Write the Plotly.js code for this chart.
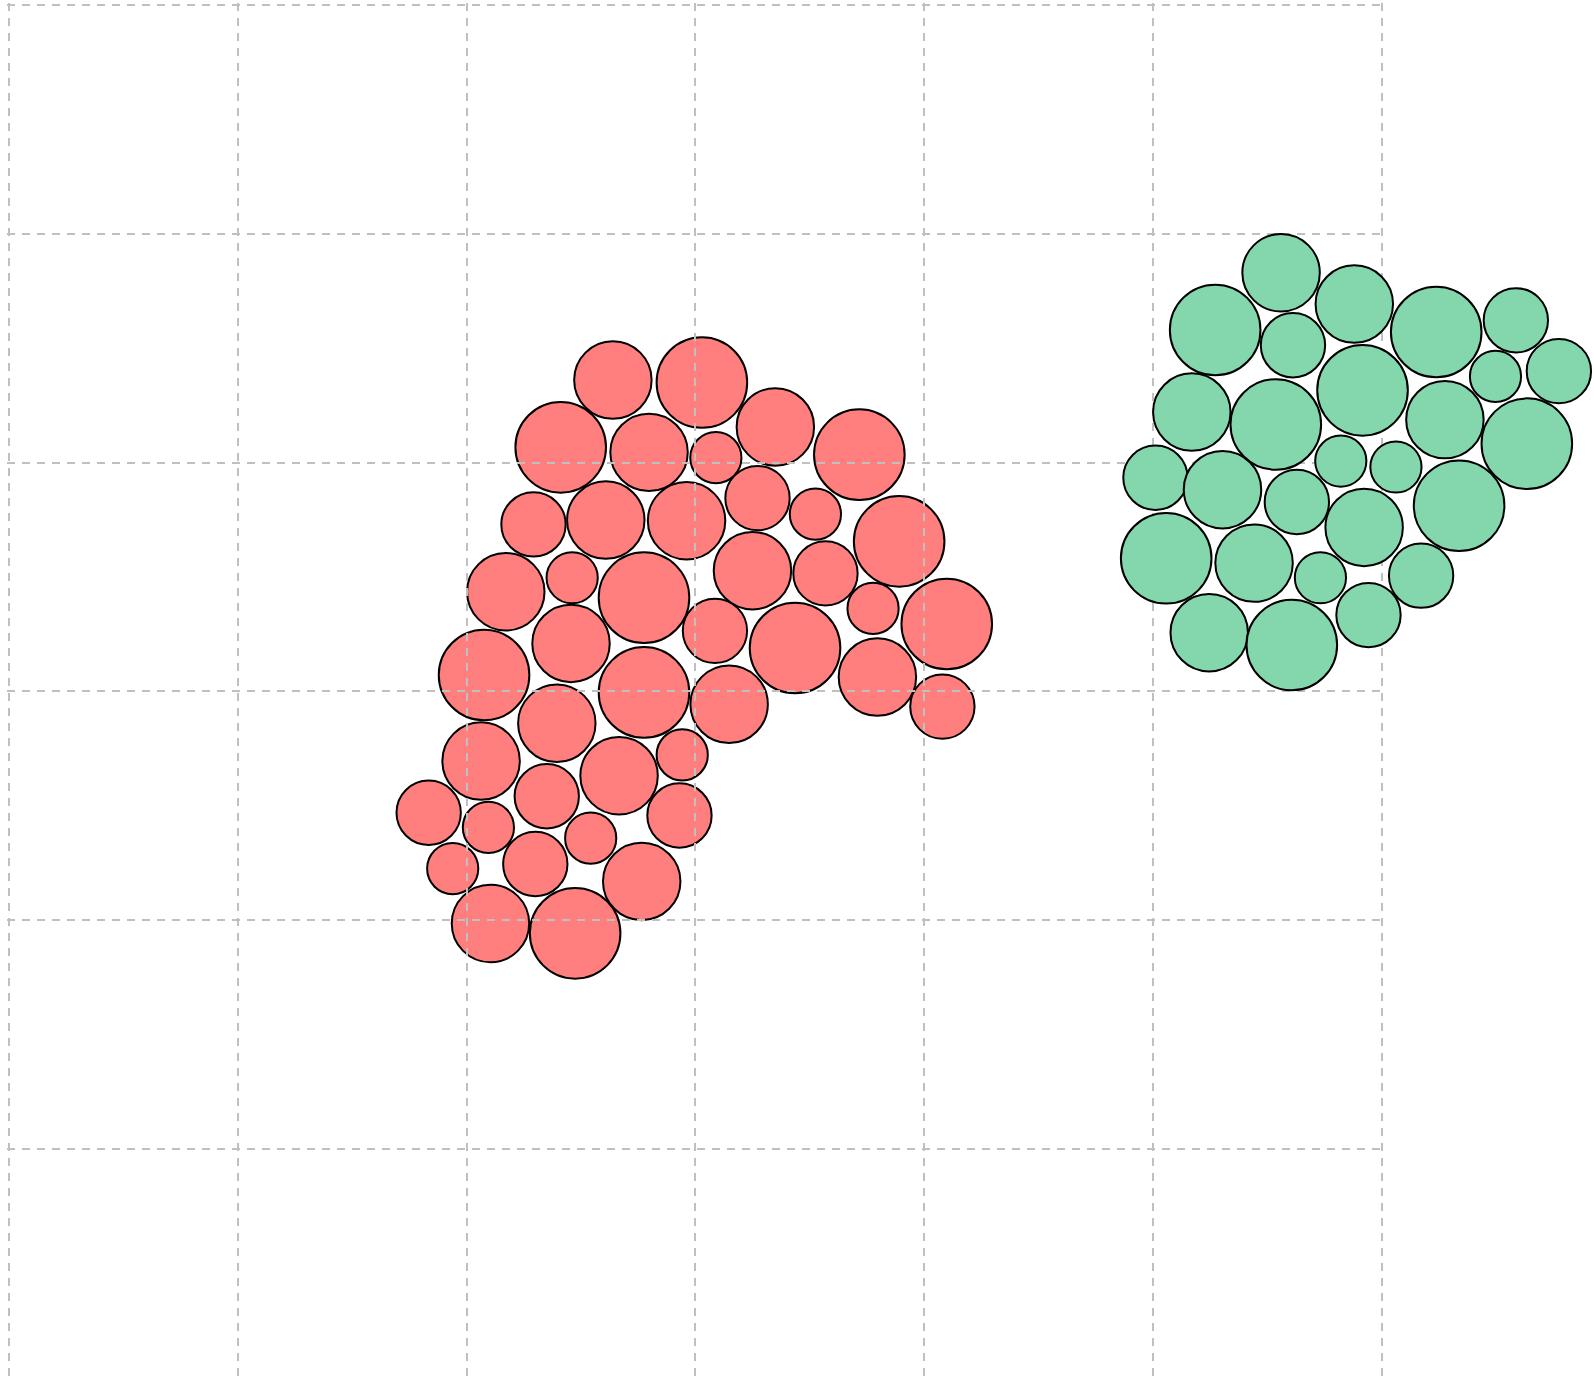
<!DOCTYPE html>
<html>
<head>
<meta charset="utf-8">
<script src="https://cdn.plot.ly/plotly-3.0.1.min.js"></script>
<style>
html,body{margin:0;padding:0;background:#ffffff;overflow:hidden}
#chart{width:1594px;height:1376px}
</style>
</head>
<body>
<div id="chart"></div>
<script>
// ---- data (grid units) ----
const redX = [2.639,3.028,3.349,2.411,2.797,3.089,3.716,2.292,2.608,2.961,3.271,3.524,3.890,2.171,2.461,2.775,3.249,3.568,3.776,4.098,2.456,3.085,3.435,2.076,2.775,3.147,3.795,4.079,2.394,2.063,2.942,2.666,2.350,1.834,2.095,2.930,2.542,1.939,2.300,2.765,2.104,2.474];
const redY = [1.639,1.650,1.844,1.933,1.955,1.978,1.965,2.270,2.251,2.254,2.155,2.225,2.344,2.564,2.503,2.590,2.472,2.484,2.637,2.705,2.790,2.735,2.810,2.928,3.004,3.056,2.937,3.066,3.139,3.304,3.277,3.368,3.458,3.530,3.594,3.542,3.641,3.774,3.754,3.830,4.014,4.057];
const redValues = [3,4,3,4,3,1,4,2,3,3,2,1,4,3,1,4,3,2,1,4,3,2,4,4,4,3,3,2,3,3,1,3,2,2,1,2,1,1,2,3,3,4];

const greenX = [5.559,5.271,5.879,5.611,6.237,6.585,5.169,5.536,5.915,6.496,6.773,6.275,6.633,5.010,5.303,5.820,6.061,5.628,6.337,5.922,5.057,5.441,5.731,6.171,5.245,5.606,5.941];
const greenY = [1.170,1.420,1.307,1.487,1.429,1.378,1.779,1.833,1.684,1.623,1.600,1.812,1.917,2.066,2.118,1.993,2.019,2.172,2.188,2.283,2.418,2.439,2.503,2.494,2.743,2.797,2.666];
const greenValues = [3,4,3,2,4,2,3,4,4,1,2,3,4,2,3,1,1,2,4,3,4,3,1,2,3,4,2];

const gridTicks = [0,1,2,3,4,5,6];

// ---- styling ----
const minD = 51.2, maxD = 90.6;
const allVals = redValues.concat(greenValues);
const vMin = Math.min.apply(null, allVals), vMax = Math.max.apply(null, allVals);
function diam(v){ return minD + (v - vMin) / (vMax - vMin) * (maxD - minD); }

const W = 1594, H = 1376;
const epsPx = 2;                              // keeps edge grid lines inside the range
const margin = {l: 9 - epsPx, r: 0, t: 5 - epsPx, b: 0, pad: 0};
const unitPx = 228.83;                        // pixels per grid unit
const eps = epsPx / unitPx;
const plotW = W - margin.l - margin.r;
const plotH = H - margin.t - margin.b;
const xEnd = plotW / unitPx - eps;            // right end of the full-width axes
const yEnd = plotH / unitPx - eps;            // bottom end (reversed axis, 0 at top)
const gridLast = gridTicks[gridTicks.length - 1];

const gridStyle = {
  showgrid: true, gridcolor: '#c0c0c0', gridwidth: 2, griddash: '8px,7px',
  tickmode: 'array', tickvals: gridTicks
};
const axisBase = {
  zeroline: false, showline: false, showticklabels: false, ticks: '',
  fixedrange: true, showgrid: false
};

const traces = [
  {
    type: 'scatter', mode: 'markers', name: 'Series 1',
    x: redX, y: redY, xaxis: 'x', yaxis: 'y', cliponaxis: false,
    marker: {
      size: redValues.map(diam), sizemode: 'diameter', color: '#ff7f7f',
      opacity: 1, line: {color: '#000000', width: 2}
    },
    hoverinfo: 'skip'
  },
  {
    // empty trace that only registers the grid subplot
    type: 'scatter', mode: 'markers', name: 'grid',
    x: [], y: [], xaxis: 'x2', yaxis: 'y2', hoverinfo: 'skip'
  },
  {
    type: 'scatter', mode: 'markers', name: 'Series 2',
    x: greenX, y: greenY, xaxis: 'x3', yaxis: 'y3', cliponaxis: false,
    marker: {
      size: greenValues.map(diam), sizemode: 'diameter', color: '#84d7ad',
      opacity: 1, line: {color: '#000000', width: 2}
    },
    hoverinfo: 'skip'
  }
];

const layout = {
  width: W, height: H, margin: margin, showlegend: false,
  paper_bgcolor: '#ffffff', plot_bgcolor: 'rgba(0,0,0,0)',
  // red series (below the grid)
  xaxis: Object.assign({}, axisBase, {range: [-eps, xEnd], domain: [0, 1], anchor: 'y'}),
  yaxis: Object.assign({}, axisBase, {range: [yEnd, -eps], domain: [0, 1], anchor: 'x'}),
  // grid (stops just past the last vertical line)
  xaxis2: Object.assign({}, axisBase, gridStyle, {
    range: [-eps, gridLast + eps],
    domain: [0, ((gridLast + 2 * eps) * unitPx) / plotW], anchor: 'y2'
  }),
  yaxis2: Object.assign({}, axisBase, gridStyle, {range: [yEnd, -eps], domain: [0, 1], anchor: 'x2'}),
  // green series (above the grid)
  xaxis3: Object.assign({}, axisBase, {range: [-eps, xEnd], domain: [0, 1], anchor: 'y3'}),
  yaxis3: Object.assign({}, axisBase, {range: [yEnd, -eps], domain: [0, 1], anchor: 'x3'})
};

Plotly.newPlot('chart', traces, layout, {staticPlot: true, displayModeBar: false});
</script>
</body>
</html>
